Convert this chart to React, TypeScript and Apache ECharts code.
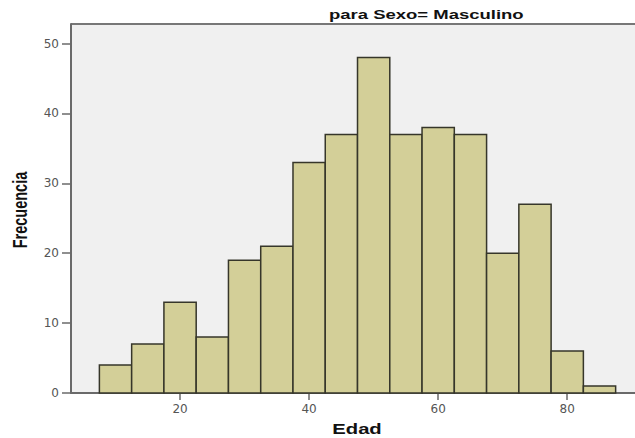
import React, { useEffect, useRef } from "react";
import * as echarts from "echarts";

const binStarts = [7.5, 12.5, 17.5, 22.5, 27.5, 32.5, 37.5, 42.5, 47.5, 52.5, 57.5, 62.5, 67.5, 72.5, 77.5, 82.5];
const binWidth = 5;
const counts = [4, 7, 13, 8, 19, 21, 33, 37, 48, 37, 38, 37, 20, 27, 6, 1];
const xTicks = [20, 40, 60, 80];
const yTicks = [0, 10, 20, 30, 40, 50];
const titleText = "para Sexo= Masculino";
const xName = "Edad";
const yName = "Frecuencia";

const FONT = "Liberation Sans, Arial, sans-serif";

export default function App() {
  const ref = useRef<HTMLDivElement>(null);
  useEffect(() => {
    const chart = echarts.init(ref.current!, null, { renderer: "svg" });
    const data = binStarts.map((s, i) => [s, s + binWidth, counts[i]]);
    chart.setOption({
      animation: false,
      backgroundColor: "#ffffff",
      textStyle: { fontFamily: FONT },
      grid: { left: 71, right: 0, top: 24, bottom: 45, backgroundColor: "#F0F0F0", show: true, borderWidth: 0 },
      xAxis: {
        type: "value",
        min: 3.1,
        max: 90.5,
        splitLine: { show: false },
        axisLine: { show: true, onZero: false, lineStyle: { color: "#6a6a6a", width: 2 } },
        axisTick: { show: true, length: 7, lineStyle: { color: "#6a6a6a", width: 1.5 }, customValues: xTicks },
        axisLabel: { color: "#555", fontSize: 12, fontFamily: "DejaVu Sans", margin: 10, customValues: xTicks },
      },
      yAxis: {
        type: "value",
        min: 0,
        max: 52.8,
        splitLine: { show: false },
        axisLine: { show: true, lineStyle: { color: "#6a6a6a", width: 2 } },
        axisTick: { show: true, length: 9, lineStyle: { color: "#6a6a6a", width: 1.5 }, customValues: yTicks },
        axisLabel: { color: "#555", fontSize: 12, fontFamily: "DejaVu Sans", margin: 12, customValues: yTicks },
      },
      series: [
        {
          type: "custom",
          data,
          encode: { x: [0, 1], y: 2 },
          renderItem: (params: any, api: any) => {
            const p0 = api.coord([api.value(0), 0]);
            const p1 = api.coord([api.value(1), api.value(2)]);
            return {
              type: "rect",
              shape: { x: p0[0], y: p1[1], width: p1[0] - p0[0], height: p0[1] - p1[1] },
              style: { fill: "#D3CF98", stroke: "#36362a", lineWidth: 1.5 },
            };
          },
        },
      ],
      graphic: [
        {
          type: "line",
          shape: { x1: 71, y1: 24, x2: 635, y2: 24 },
          style: { stroke: "#777", lineWidth: 2 },
        },
        {
          type: "text",
          x: 329,
          y: 15,
          scaleX: 1.54,
          style: {
            text: titleText,
            fontSize: 12,
            fontWeight: "bold",
            fontFamily: FONT,
            fill: "#111",
            textAlign: "left",
            textVerticalAlign: "middle",
          },
        },
        {
          type: "text",
          x: 357,
          y: 429,
          scaleX: 1.35,
          style: {
            text: xName,
            fontSize: 15,
            fontWeight: "bold",
            fontFamily: FONT,
            fill: "#111",
            textAlign: "center",
            textVerticalAlign: "middle",
          },
        },
        {
          type: "text",
          x: 20,
          y: 210,
          rotation: Math.PI / 2,
          scaleY: 1.4,
          style: {
            text: yName,
            fontSize: 14.5,
            fontWeight: "bold",
            fontFamily: FONT,
            fill: "#111",
            textAlign: "center",
            textVerticalAlign: "middle",
          },
        },
      ],
    });
    return () => chart.dispose();
  }, []);
  return <div ref={ref} style={{ width: 635, height: 438, position: "absolute", left: 0, top: 0 }} />;
}
